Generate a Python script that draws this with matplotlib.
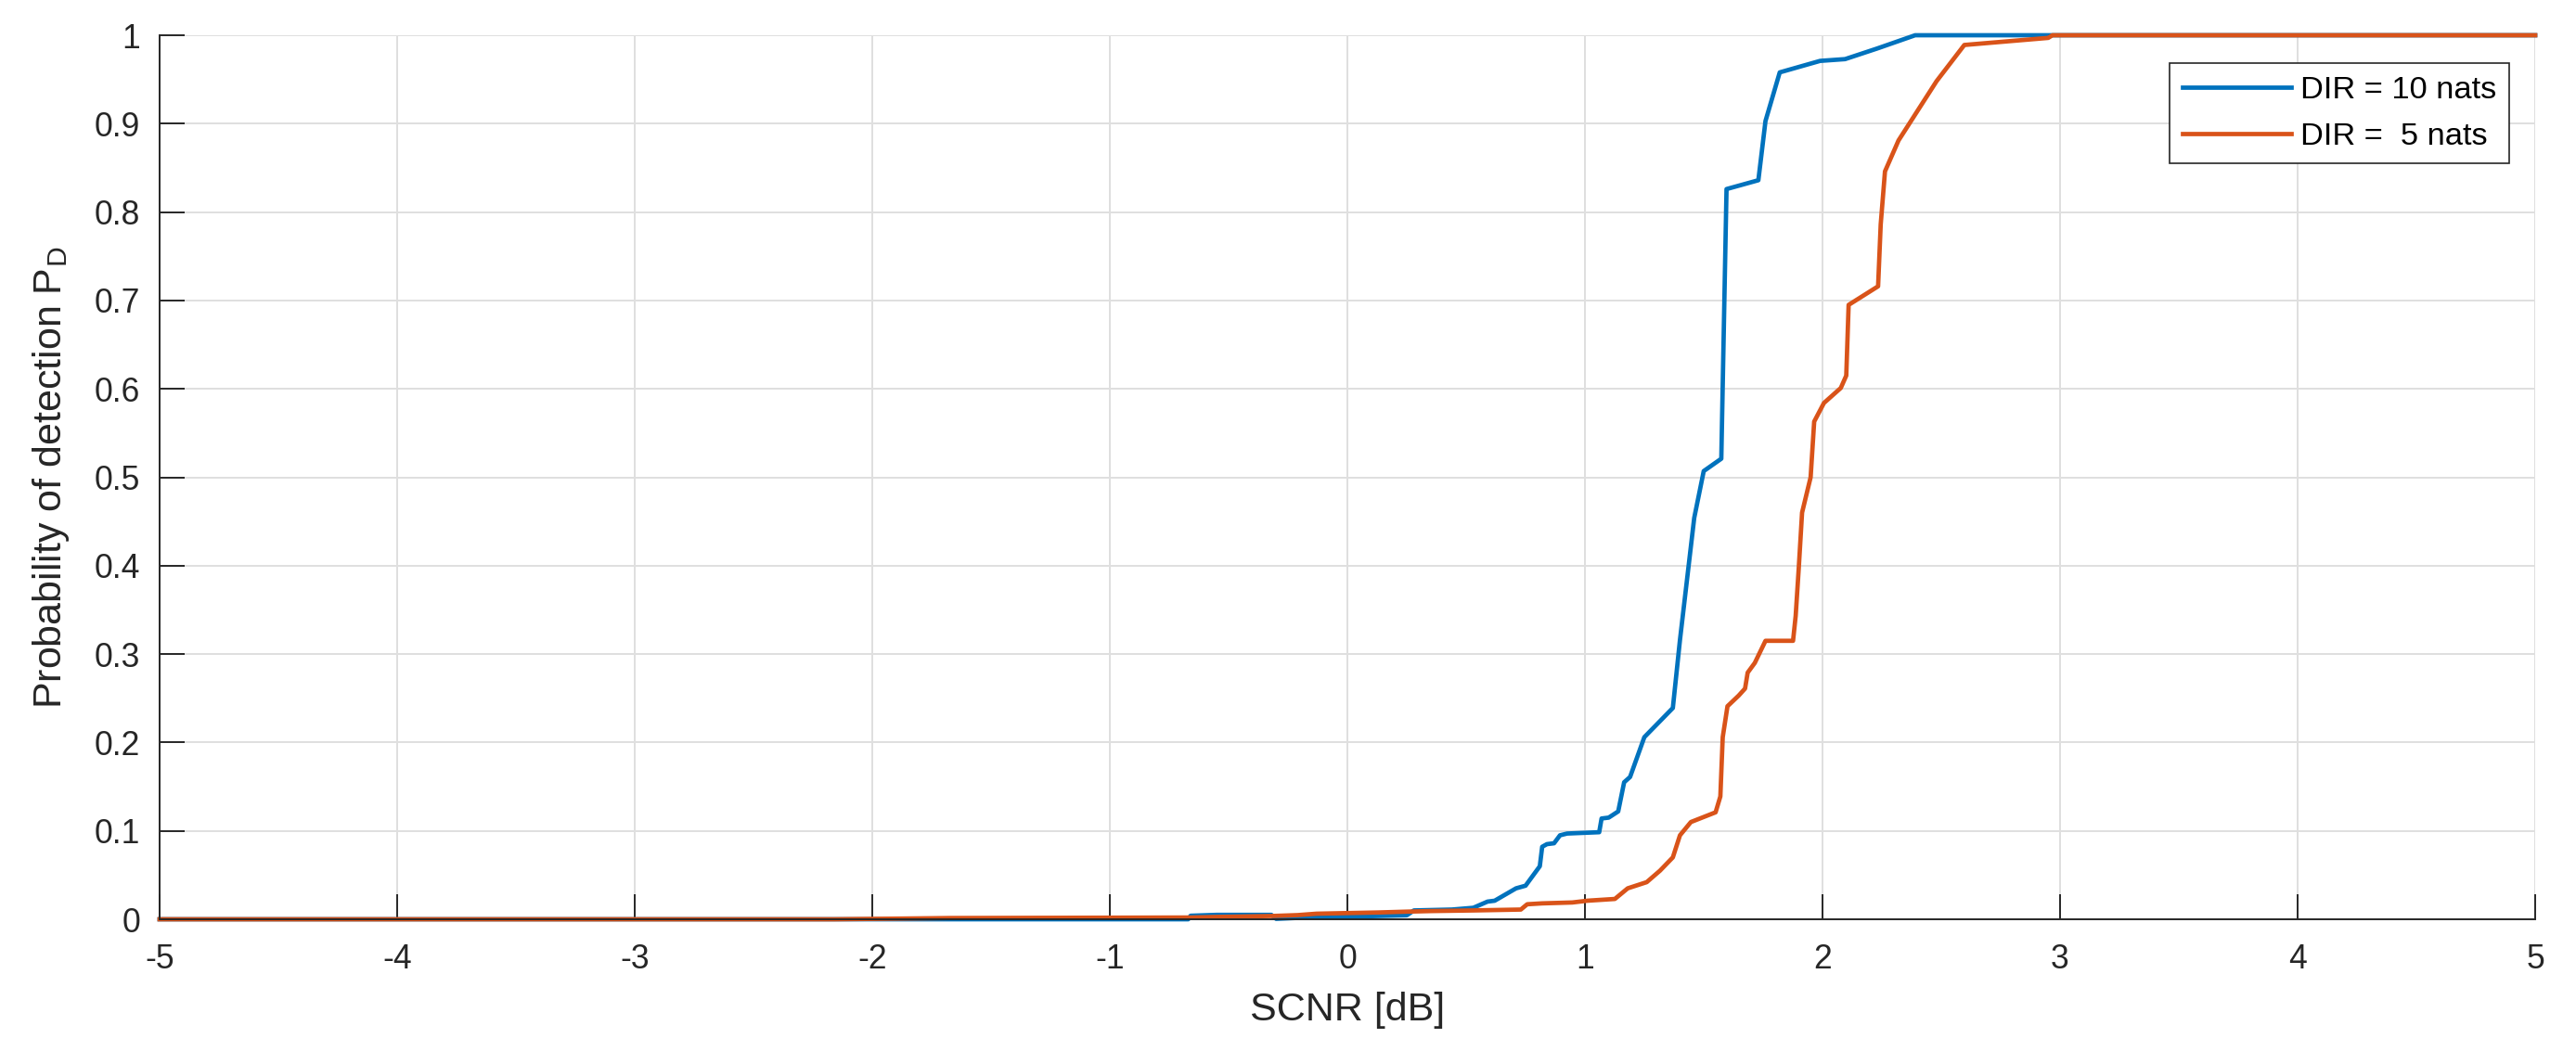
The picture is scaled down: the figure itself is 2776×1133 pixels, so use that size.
import matplotlib
matplotlib.use('Agg')
import matplotlib.pyplot as plt
from matplotlib.ticker import FixedLocator, FuncFormatter

plt.rcParams['font.family'] = ['Liberation Sans', 'DejaVu Sans']
plt.rcParams['mathtext.fontset'] = 'custom'
plt.rcParams['mathtext.rm'] = 'Liberation Sans'
plt.rcParams['mathtext.it'] = 'Liberation Sans:italic'
plt.rcParams['axes.unicode_minus'] = False

# Pd curves (SCNR in dB, probability of detection)
scnr_10 = [-5.0, -0.67, -0.66, -0.55, -0.32, -0.30, -0.17, 0.10, 0.25, 0.28,
           0.44, 0.53, 0.59, 0.62, 0.71, 0.75, 0.81, 0.82, 0.84, 0.87,
           0.895, 0.925, 1.06, 1.07, 1.10, 1.14, 1.165, 1.19, 1.25, 1.37,
           1.40, 1.46, 1.50, 1.574, 1.596, 1.73, 1.76, 1.82, 1.99, 2.095,
           2.23, 2.39, 5.0]
pd_10 = [0.0, 0.0, 0.004, 0.005, 0.005, 0.0005, 0.002, 0.0035, 0.0045, 0.010,
         0.011, 0.013, 0.020, 0.021, 0.035, 0.038, 0.060, 0.082, 0.085, 0.086,
         0.095, 0.097, 0.0985, 0.114, 0.115, 0.122, 0.155, 0.161, 0.206, 0.239,
         0.316, 0.454, 0.507, 0.521, 0.826, 0.836, 0.903, 0.958, 0.971, 0.973,
         0.985, 1.0, 1.0]

scnr_5 = [-5.0, -2.16, -1.91, -1.67, -0.66, -0.54, -0.32, -0.21, -0.13, 0.13,
          0.26, 0.35, 0.53, 0.73, 0.757, 0.82, 0.947, 1.01, 1.126, 1.18,
          1.26, 1.316, 1.37, 1.40, 1.446, 1.55, 1.57, 1.58, 1.60, 1.647,
          1.674, 1.685, 1.715, 1.76, 1.876, 1.887, 1.90, 1.914, 1.95, 1.965,
          2.006, 2.077, 2.10, 2.11, 2.234, 2.245, 2.263, 2.32, 2.48, 2.597,
          2.95, 2.968, 5.0]
pd_5 = [0.0, 0.0, 0.0007, 0.0014, 0.002, 0.0027, 0.0037, 0.0047, 0.0063, 0.0077,
        0.0087, 0.0093, 0.010, 0.011, 0.017, 0.018, 0.019, 0.021, 0.023, 0.035,
        0.042, 0.055, 0.070, 0.095, 0.110, 0.121, 0.139, 0.206, 0.241, 0.253,
        0.261, 0.279, 0.290, 0.315, 0.315, 0.343, 0.397, 0.460, 0.500, 0.563,
        0.584, 0.601, 0.615, 0.695, 0.716, 0.786, 0.846, 0.881, 0.948, 0.989,
        0.997, 1.0, 1.0]

labels = ['DIR = 10 nats', 'DIR =  5 nats']
x_ticks = [-5, -4, -3, -2, -1, 0, 1, 2, 3, 4, 5]
y_ticks = [0, 0.1, 0.2, 0.3, 0.4, 0.5, 0.6, 0.7, 0.8, 0.9, 1]

dark = '#262626'

fig = plt.figure(figsize=(13.88, 5.665), dpi=200)
ax = fig.add_axes([0.06196, 0.12533, 0.98415 - 0.06196, 0.96646 - 0.12533])

ax.plot(scnr_10, pd_10, color='#0072BD', linewidth=1.7, label=labels[0], clip_on=False)
ax.plot(scnr_5, pd_5, color='#D95319', linewidth=1.7, label=labels[1], clip_on=False)

ax.set_xlim(-5, 5)
ax.set_ylim(0, 1)
ax.xaxis.set_major_locator(FixedLocator(x_ticks))
ax.yaxis.set_major_locator(FixedLocator(y_ticks))
ax.yaxis.set_major_formatter(FuncFormatter(lambda v, p: f'{v:g}'))

ax.set_axisbelow(True)
ax.grid(True, color='#dfdfdf', linewidth=0.72)
for s in ['top', 'right']:
    ax.spines[s].set_visible(False)
for s in ['left', 'bottom']:
    ax.spines[s].set_color(dark)
    ax.spines[s].set_linewidth(0.7)
ax.tick_params(direction='in', length=9.7, width=0.7, color=dark,
               labelcolor=dark, labelsize=12.8, top=False, right=False)
ax.tick_params(axis='x', pad=9.5)
ax.tick_params(axis='y', pad=7.5)

ax.set_xlabel('SCNR [dB]', fontsize=15.5, color=dark, labelpad=6)
ax.set_ylabel(r'Probability of detection P$_{\mathrm{D}}$', fontsize=15.5,
              color=dark, labelpad=9)

leg = ax.legend(loc='upper right', bbox_to_anchor=(0.97406, 0.94025),
                bbox_transform=fig.transFigure, borderaxespad=0,
                fancybox=False, framealpha=1, edgecolor=dark,
                fontsize=12.4, handlelength=3.4, handletextpad=0.3,
                labelspacing=0.55, borderpad=0.4)
leg.get_frame().set_linewidth(0.6)

fig.savefig('out.png', dpi=200)
